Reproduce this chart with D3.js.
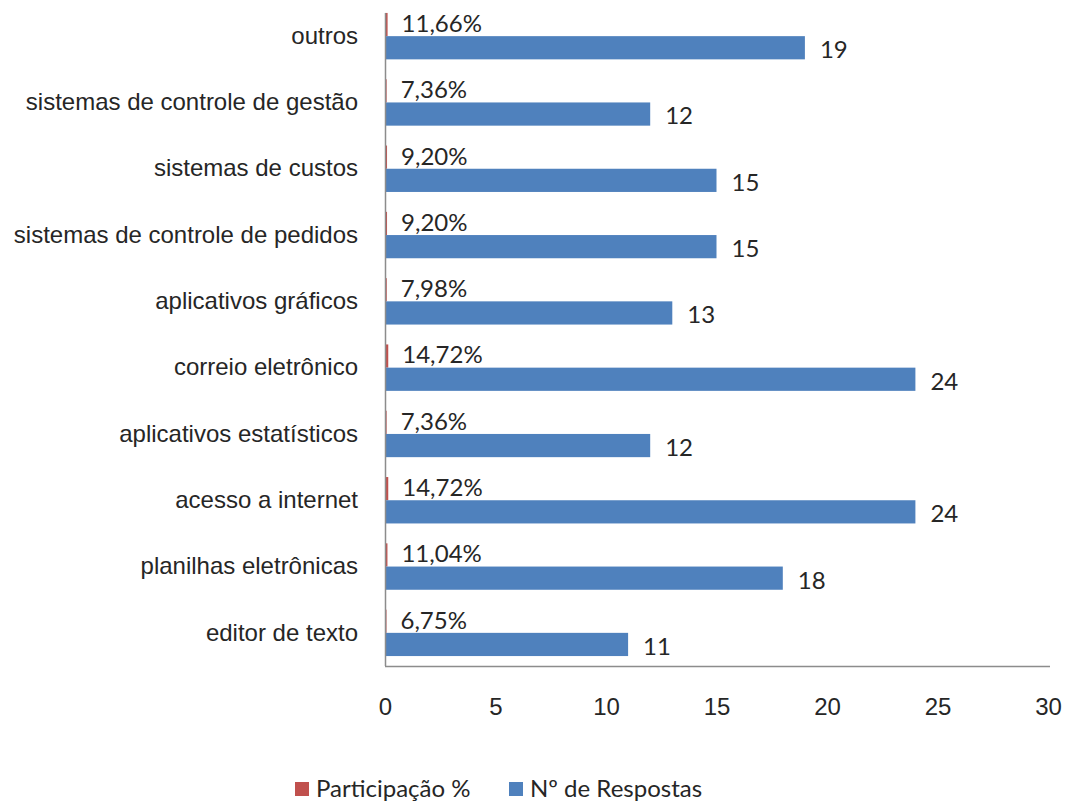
<!DOCTYPE html>
<html>
<head>
<meta charset="utf-8">
<script src="https://cdn.jsdelivr.net/npm/d3@7"></script>
<style>
  html, body { margin: 0; padding: 0; background: #fff; }
  svg { display: block; font-family: Lato, "Open Sans", sans-serif; }
  text { fill: #262626; }
</style>
</head>
<body>
<svg id="chart" width="1065" height="801"></svg>
<script>
// Categories listed top to bottom
const categories = [
  "outros",
  "sistemas de controle de gestão",
  "sistemas de custos",
  "sistemas de controle de pedidos",
  "aplicativos gráficos",
  "correio eletrônico",
  "aplicativos estatísticos",
  "acesso a internet",
  "planilhas eletrônicas",
  "editor de texto"
];
// Share of answers, in percent
const participacao = [11.66, 7.36, 9.20, 9.20, 7.98, 14.72, 7.36, 14.72, 11.04, 6.75];
// Number of answers
const respostas = [19, 12, 15, 15, 13, 24, 12, 24, 18, 11];
const xTicks = [0, 5, 10, 15, 20, 25, 30];
const seriesNames = ["Participação %", "Nº de Respostas"];
const seriesColors = ["#C0504D", "#4F81BD"];

const svg = d3.select("#chart");
const plotLeft = 385, plotRight = 1048, plotTop = 3, plotBottom = 666;
const fontSize = 24;

const x = d3.scaleLinear().domain([0, 30]).range([plotLeft, plotRight]);
const y = d3.scaleBand().domain(categories).range([plotTop, plotBottom])
  .paddingInner(0.3).paddingOuter(0.15);
const sub = d3.scaleBand().domain(seriesNames).range([0, y.bandwidth()]);

const rows = categories.map((c, i) => ({ cat: c, pct: participacao[i], n: respostas[i] }));
const fmtPct = v => v.toFixed(2).replace(".", ",") + "%";

// Bars: percentage series is plotted as a fraction on the same axis
const g = svg.append("g");
g.selectAll("rect.pct").data(rows).join("rect")
  .attr("class", "pct")
  .attr("x", x(0))
  .attr("y", d => y(d.cat) + sub(seriesNames[0]))
  .attr("width", d => x(d.pct / 100) - x(0))
  .attr("height", sub.bandwidth())
  .attr("fill", seriesColors[0]);

g.selectAll("rect.n").data(rows).join("rect")
  .attr("class", "n")
  .attr("x", x(0))
  .attr("y", d => y(d.cat) + sub(seriesNames[1]))
  .attr("width", d => x(d.n) - x(0))
  .attr("height", sub.bandwidth())
  .attr("fill", seriesColors[1]);

// Value labels
g.selectAll("text.pct").data(rows).join("text")
  .attr("class", "pct")
  .attr("x", d => x(d.pct / 100) + 14)
  .attr("y", d => y(d.cat) + sub(seriesNames[0]) + sub.bandwidth() / 2 - 1)
  .attr("dy", "0.35em")
  .attr("font-size", fontSize)
  .text(d => fmtPct(d.pct));

g.selectAll("text.n").data(rows).join("text")
  .attr("class", "n")
  .attr("x", d => x(d.n) + 15)
  .attr("y", d => y(d.cat) + sub(seriesNames[1]) + sub.bandwidth() / 2 + 2)
  .attr("dy", "0.35em")
  .attr("font-size", fontSize)
  .text(d => d.n);

// Axes
const yAxis = svg.append("g")
  .attr("transform", `translate(${plotLeft},0)`)
  .call(d3.axisLeft(y).tickSize(0).tickPadding(27));
yAxis.select(".domain").remove();
yAxis.selectAll("text").attr("font-size", fontSize).attr("fill", "#262626");

svg.append("line")
  .attr("x1", plotLeft + 0.5).attr("x2", plotLeft + 0.5)
  .attr("y1", y(categories[0])).attr("y2", plotBottom)
  .attr("stroke", "#8c8c8c").attr("stroke-width", 1.5);

const xAxis = svg.append("g")
  .attr("transform", `translate(0,${plotBottom})`)
  .call(d3.axisBottom(x).tickValues(xTicks).tickSize(0).tickPadding(32));
xAxis.select(".domain").remove();
xAxis.selectAll("text").attr("font-size", fontSize).attr("fill", "#262626");

svg.append("line")
  .attr("x1", plotLeft).attr("x2", plotRight + 2)
  .attr("y1", plotBottom + 0.5).attr("y2", plotBottom + 0.5)
  .attr("stroke", "#8c8c8c").attr("stroke-width", 1.5);

// Legend
const legendX = [295, 509];
const legend = svg.append("g");
seriesNames.forEach((name, i) => {
  legend.append("rect")
    .attr("x", legendX[i]).attr("y", 782)
    .attr("width", 14).attr("height", 14)
    .attr("fill", seriesColors[i]);
  legend.append("text")
    .attr("x", legendX[i] + 21).attr("y", 797)
    .attr("font-size", fontSize)
    .text(name);
});
</script>
</body>
</html>
